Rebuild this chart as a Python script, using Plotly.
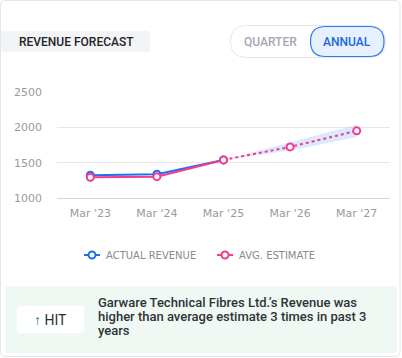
import plotly.graph_objects as go

# ---- data ----
periods = ["Mar '23", "Mar '24", "Mar '25", "Mar '26", "Mar '27"]
actual_revenue = [1322, 1336, 1539, None, None]
avg_estimate = [1294, 1302, 1539, 1723, 1950]
estimate_low = [None, None, 1539, 1672, 1862]
estimate_high = [None, None, 1539, 1790, 2035]
y_ticks = [1000, 1500, 2000, 2500]

W, H = 402, 358
L, R, T, B = 57, 12, 92, 160
PW, PH = W - L - R, H - T - B

def px(x):
    return (x - L) / PW

def py(y):
    return 1 - (y - T) / PH

def rrect(x0, y0, x1, y1, r):
    # rounded rectangle path in paper coordinates from pixel coordinates
    pts = [
        ("M", x0 + r, y0), ("L", x1 - r, y0), ("Q", x1, y0, x1, y0 + r),
        ("L", x1, y1 - r), ("Q", x1, y1, x1 - r, y1), ("L", x0 + r, y1),
        ("Q", x0, y1, x0, y1 - r), ("L", x0, y0 + r), ("Q", x0, y0, x0 + r, y0),
    ]
    s = ""
    for p in pts:
        cmd = p[0]
        coords = p[1:]
        parts = []
        for i in range(0, len(coords), 2):
            parts.append(f"{px(coords[i]):.5f},{py(coords[i+1]):.5f}")
        s += cmd + " " + " ".join(parts) + " "
    return s + "Z"

BLUE = "#1f6fec"
PINK = "#f23a8e"

fig = go.Figure()

# band
fig.add_trace(go.Scatter(x=periods, y=estimate_low, mode="lines", line=dict(width=0, color="rgba(0,0,0,0)"),
                         hoverinfo="skip", showlegend=False, connectgaps=False))
fig.add_trace(go.Scatter(x=periods, y=estimate_high, mode="lines", line=dict(width=0, color="rgba(0,0,0,0)"),
                         fill="tonexty", fillcolor="rgba(185,210,252,0.5)", hoverinfo="skip", showlegend=False))

# actual
fig.add_trace(go.Scatter(x=periods, y=actual_revenue, mode="lines+markers", name="ACTUAL REVENUE",
                         line=dict(color=BLUE, width=2),
                         marker=dict(size=7, color="white", line=dict(color=BLUE, width=2)),
                         showlegend=False))

# estimate solid (past) and dotted (forecast)
past_est = [v if i <= 2 else None for i, v in enumerate(avg_estimate)]
fut_est = [v if i >= 2 else None for i, v in enumerate(avg_estimate)]
fig.add_trace(go.Scatter(x=periods, y=fut_est, mode="lines", line=dict(color=PINK, width=2, dash="dot"),
                         showlegend=False))
fig.add_trace(go.Scatter(x=periods, y=past_est, mode="lines", line=dict(color=PINK, width=2),
                         showlegend=False))
fig.add_trace(go.Scatter(x=periods, y=avg_estimate, mode="markers", name="AVG. ESTIMATE",
                         marker=dict(size=7, color="white", line=dict(color=PINK, width=2)),
                         showlegend=False))

shapes = []
annotations = []

# card border
shapes.append(dict(type="path", xref="paper", yref="paper", path=rrect(0.5, 0.5, 400, 356.5, 5),
                   line=dict(color="#e3e6ea", width=1), fillcolor="rgba(0,0,0,0)", layer="below"))

# header box
shapes.append(dict(type="path", xref="paper", yref="paper", path=rrect(1, 31, 150, 52, 3),
                   line=dict(width=0), fillcolor="#f3f4f6", layer="below"))
annotations.append(dict(xref="paper", yref="paper", x=px(17), y=py(42), xanchor="left", yanchor="middle",
                        text="REVENUE FORECAST", showarrow=False,
                        font=dict(family="Roboto", size=12, color="#1f2328", weight=500)))

# toggle
shapes.append(dict(type="path", xref="paper", yref="paper", path=rrect(230.5, 25.5, 385.5, 57.5, 16),
                   line=dict(color="#e5e7eb", width=1), fillcolor="white", layer="below"))
shapes.append(dict(type="path", xref="paper", yref="paper", path=rrect(310.5, 26.5, 384, 56.5, 15),
                   line=dict(color="#2a7bf0", width=1.2), fillcolor="#e7f0fe", layer="below"))
annotations.append(dict(xref="paper", yref="paper", x=px(270), y=py(42), xanchor="center", yanchor="middle",
                        text="QUARTER", showarrow=False,
                        font=dict(family="Roboto", size=12, color="#a3a8b4", weight=500)))
annotations.append(dict(xref="paper", yref="paper", x=px(347), y=py(42), xanchor="center", yanchor="middle",
                        text="ANNUAL", showarrow=False,
                        font=dict(family="Roboto", size=12, color="#1a66e0", weight=500)))

# legend
for (x0, col, label) in [(84, BLUE, "ACTUAL REVENUE"), (217, PINK, "AVG. ESTIMATE")]:
    shapes.append(dict(type="line", xref="paper", yref="paper", x0=px(x0), x1=px(x0 + 16), y0=py(255), y1=py(255),
                       line=dict(color=col, width=2)))
    shapes.append(dict(type="circle", xref="paper", yref="paper", x0=px(x0 + 4.5), x1=px(x0 + 11.5),
                       y0=py(258.5), y1=py(251.5), line=dict(color=col, width=2), fillcolor="white"))
    annotations.append(dict(xref="paper", yref="paper", x=px(x0 + 20), y=py(255.5), xanchor="left", yanchor="middle",
                            text=label, showarrow=False,
                            font=dict(family="DejaVu Sans", size=10, color="#8a8a8a")))

# bottom hit box
shapes.append(dict(type="path", xref="paper", yref="paper", path=rrect(5, 286, 397, 353, 3),
                   line=dict(width=0), fillcolor="#eff8f2", layer="below"))
shapes.append(dict(type="path", xref="paper", yref="paper", path=rrect(17, 306, 84, 333, 4),
                   line=dict(width=0), fillcolor="white", layer="below"))
annotations.append(dict(xref="paper", yref="paper", x=px(50.5), y=py(320), xanchor="center", yanchor="middle",
                        text="<span style='color:#0b8a55'>↑</span> HIT", showarrow=False,
                        font=dict(family="Roboto", size=14, color="#2b2f33")))
lines = ["Garware Technical Fibres Ltd.’s Revenue was",
         "higher than average estimate 3 times in past 3",
         "years"]
for i, ln in enumerate(lines):
    annotations.append(dict(xref="paper", yref="paper", x=px(96), y=py(302 + 14 * i), xanchor="left",
                            yanchor="middle", text=ln, showarrow=False,
                            font=dict(family="Roboto", size=13, color="#2f3337", weight=500)))

fig.update_layout(
    width=W, height=H,
    margin=dict(l=L, r=R, t=T, b=B, pad=0),
    paper_bgcolor="white", plot_bgcolor="white",
    showlegend=False,
    shapes=shapes, annotations=annotations,
    xaxis=dict(type="category", range=[-0.5, 4.5], showgrid=False, showline=True, linecolor="#ccd6eb",
               linewidth=1, ticks="", tickfont=dict(family="DejaVu Sans", size=11, color="#9a9a9a"),
               ticklabelstandoff=5, fixedrange=True),
    yaxis=dict(range=[1000, 2500], tickvals=y_ticks, showgrid=True, gridcolor="#e6e6e6", gridwidth=1,
               zeroline=False, showline=False, ticks="",
               tickfont=dict(family="DejaVu Sans", size=11, color="#9a9a9a"),
               ticklabelstandoff=14, fixedrange=True),
)

fig.write_html("out.html", config={"displayModeBar": False},
               post_script="document.body.style.margin='0';document.body.style.overflow='hidden';")
